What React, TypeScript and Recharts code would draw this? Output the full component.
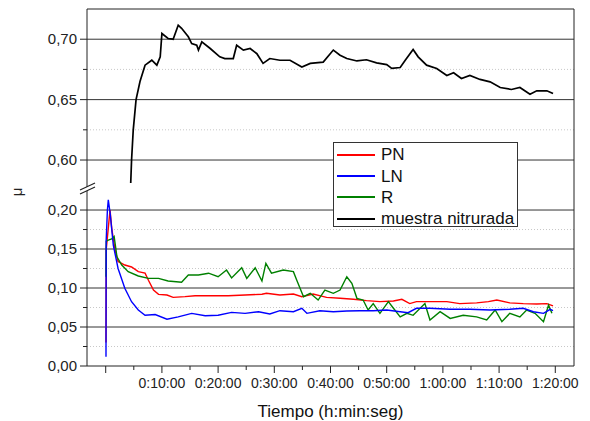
import { LineChart, Line, XAxis, YAxis, ReferenceLine } from 'recharts'

// tiempo en minutos, coeficiente de fricción μ
const pnTime = [0.05, 0.1, 0.5, 0.77, 1.07, 1.65, 2.2, 3.4, 4.6, 5.8, 7.0, 7.6, 8.5, 9.4, 10.9, 12.0, 14.1, 15.9, 18.9, 21.8, 24.8, 27.8, 28.6, 31.0, 33.4, 34.9, 36.9, 39.3, 41.7, 44.1, 46.4, 48.8, 51.2, 52.7, 54.1, 55.3, 57.7, 60.7, 63.0, 66.0, 68.1, 69.6, 71.9, 74.3, 76.7, 78.5, 79.6]
const pnValue = [0.03, 0.15, 0.18, 0.2, 0.1765, 0.149, 0.134, 0.1295, 0.127, 0.121, 0.119, 0.11, 0.0974, 0.0919, 0.091, 0.088, 0.0889, 0.09, 0.09, 0.09, 0.091, 0.092, 0.0932, 0.091, 0.0923, 0.0889, 0.0923, 0.088, 0.0868, 0.0855, 0.0838, 0.0825, 0.0833, 0.0855, 0.08, 0.0825, 0.0825, 0.0825, 0.08, 0.081, 0.0825, 0.0846, 0.081, 0.08, 0.0795, 0.08, 0.077]

const lnTime = [0.05, 0.08, 0.3, 0.46, 0.8, 1.35, 2.2, 3.4, 4.6, 5.8, 7.0, 8.8, 10.9, 12.9, 15.3, 17.7, 20.0, 22.4, 24.8, 27.2, 29.2, 31.0, 33.4, 34.9, 35.8, 38.1, 40.5, 42.9, 45.2, 47.6, 50.0, 52.4, 53.8, 55.3, 57.7, 61.3, 64.8, 68.4, 71.9, 74.3, 76.1, 77.9, 79.1, 79.6]
const lnValue = [0.012, 0.16, 0.2, 0.213, 0.195, 0.155, 0.125, 0.0996, 0.0824, 0.0718, 0.065, 0.066, 0.06, 0.063, 0.0675, 0.0645, 0.065, 0.0688, 0.0675, 0.0696, 0.0667, 0.0709, 0.0696, 0.074, 0.0675, 0.0709, 0.0696, 0.0705, 0.0709, 0.0709, 0.0718, 0.0696, 0.0684, 0.074, 0.074, 0.0727, 0.0727, 0.0718, 0.0727, 0.074, 0.0696, 0.0675, 0.0727, 0.071]

const rTime = [0.05, 0.1, 0.46, 1.07, 1.5, 2.0, 2.85, 4.0, 5.8, 7.6, 9.4, 11.1, 13.5, 14.7, 16.5, 18.3, 20.0, 21.5, 22.4, 24.2, 25.1, 26.6, 27.8, 28.5, 29.5, 31.6, 33.4, 34.0, 35.2, 36.4, 37.8, 39.0, 40.5, 41.7, 42.9, 43.8, 44.7, 45.8, 46.7, 47.6, 48.8, 50.3, 51.2, 52.4, 53.6, 54.7, 56.8, 57.7, 59.5, 61.3, 63.6, 66.0, 67.8, 69.3, 70.5, 71.9, 73.7, 74.9, 76.4, 77.9, 78.8, 79.4]
const rValue = [0.1145, 0.16, 0.1615, 0.163, 0.166, 0.14, 0.1295, 0.121, 0.1154, 0.1124, 0.1124, 0.109, 0.1073, 0.1167, 0.1167, 0.119, 0.1145, 0.123, 0.113, 0.126, 0.1124, 0.126, 0.109, 0.1316, 0.119, 0.123, 0.121, 0.11, 0.0889, 0.0932, 0.0846, 0.0974, 0.0932, 0.0974, 0.1145, 0.106, 0.0868, 0.0846, 0.0718, 0.08, 0.0675, 0.0825, 0.074, 0.063, 0.0675, 0.065, 0.08, 0.059, 0.0696, 0.061, 0.065, 0.063, 0.059, 0.0718, 0.0568, 0.0675, 0.063, 0.0718, 0.0675, 0.0568, 0.078, 0.0675]

const mnTime = [4.45, 4.6, 4.9, 5.4, 6.1, 7.0, 8.2, 9.1, 9.7, 10.0, 11.1, 12.0, 12.9, 13.5, 14.7, 15.3, 16.2, 16.5, 17.1, 18.6, 20.3, 21.2, 22.7, 23.3, 24.5, 25.7, 26.9, 28.0, 29.2, 31.0, 32.8, 34.9, 36.4, 38.7, 40.5, 41.7, 42.9, 44.7, 46.4, 48.2, 50.0, 50.9, 52.4, 53.3, 54.7, 55.6, 57.1, 58.9, 60.7, 61.9, 63.3, 64.8, 66.6, 68.4, 70.2, 72.2, 73.7, 75.5, 76.7, 78.5, 79.6]
const mnValue = [0.581, 0.6, 0.625, 0.65, 0.665, 0.6785, 0.6826, 0.6785, 0.6854, 0.7047, 0.7006, 0.7, 0.7116, 0.709, 0.702, 0.6964, 0.695, 0.691, 0.6978, 0.6923, 0.6854, 0.684, 0.684, 0.695, 0.691, 0.6923, 0.688, 0.68, 0.684, 0.6826, 0.6826, 0.677, 0.68, 0.681, 0.691, 0.6868, 0.684, 0.682, 0.683, 0.6804, 0.679, 0.6758, 0.6766, 0.6826, 0.6915, 0.6854, 0.6785, 0.6758, 0.67, 0.6722, 0.6675, 0.67, 0.6667, 0.6647, 0.66, 0.6584, 0.66, 0.6545, 0.6573, 0.6573, 0.655]

const xMajor = [0, 10, 20, 30, 40, 50, 60, 70, 80]
const xMinor = [5, 15, 25, 35, 45, 55, 65, 75]
const lowMajor = [0, 0.05, 0.1, 0.15, 0.2]
const lowMinor = [0.025, 0.075, 0.125, 0.175]
const upMajor = [0.6, 0.65, 0.7]
const upMinor = [0.625, 0.675]

const legendItems = [
  { name: 'PN', color: '#ff0000' },
  { name: 'LN', color: '#0000ff' },
  { name: 'R', color: '#008000' },
  { name: 'muestra nitrurada', color: '#000000' },
]

const xDomain = [-3.33, 83.33]
const lowDomain = [0, 0.2308]
const upDomain = [0.5785, 0.725]

const toPoints = (t: number[], v: number[]) => t.map((x, i) => ({ t: x, v: v[i] }))
const pnData = toPoints(pnTime, pnValue)
const lnData = toPoints(lnTime, lnValue)
const rData = toPoints(rTime, rValue)
const mnData = toPoints(mnTime, mnValue)

const FONT = '"Liberation Sans", Arial, sans-serif'
const TICK_SIZE = 7
const TICK_MARGIN = 3

const fmtTime = (m: number) => {
  const h = Math.floor(m / 60)
  const mm = m % 60
  return `${h}:${String(mm).padStart(2, '0')}:00`
}

function YTick(props: any) {
  const { x, y, payload, majors } = props
  const axisX = x + TICK_SIZE + TICK_MARGIN
  const isMajor = majors.some((m: number) => Math.abs(m - payload.value) < 1e-6)
  return (
    <g>
      <line x1={axisX - (isMajor ? 7 : 4)} x2={axisX} y1={y} y2={y} stroke="#222" strokeWidth={1} />
      {isMajor && (
        <text x={x} y={y} dy="0.35em" textAnchor="end" fontSize={15} fontFamily={FONT} fill="#222">
          {payload.value.toFixed(2).replace('.', ',')}
        </text>
      )}
    </g>
  )
}

function XTick(props: any) {
  const { x, y, payload } = props
  const axisY = y - TICK_SIZE - TICK_MARGIN
  const isMajor = xMajor.includes(payload.value)
  return (
    <g>
      <line x1={x} x2={x} y1={axisY} y2={axisY + (isMajor ? 7 : 4)} stroke="#222" strokeWidth={1} />
      {isMajor && payload.value > 0 && (
        <text x={x} y={y} dy={12} textAnchor="middle" fontSize={14} fontFamily={FONT} fill="#222">
          {fmtTime(payload.value)}
        </text>
      )}
    </g>
  )
}

export default function App() {
  return (
    <div style={{ position: 'absolute', left: 0, top: 0, width: 590, height: 421, background: '#fff', fontFamily: FONT }}>
      <div style={{ position: 'absolute', left: 0, top: 0 }}>
        <LineChart width={590} height={186} margin={{ top: 9, right: 16, bottom: 0, left: 35 }}>
          <XAxis dataKey="t" type="number" domain={xDomain} allowDataOverflow hide />
          <YAxis
            type="number"
            domain={upDomain}
            allowDataOverflow
            width={52}
            ticks={[...upMajor, ...upMinor]}
            interval={0}
            tick={<YTick majors={upMajor} />}
            tickLine={false}
            tickSize={TICK_SIZE}
            tickMargin={TICK_MARGIN}
            axisLine={{ stroke: '#222' }}
          />
          {upMinor.map((v) => (
            <ReferenceLine key={v} y={v} stroke="#c8c8c8" strokeDasharray="1 2" />
          ))}
          {upMajor.map((v) => (
            <ReferenceLine key={v} y={v} stroke="#333" />
          ))}
          <ReferenceLine y={upDomain[1]} stroke="#222" />
          <ReferenceLine x={xDomain[1]} stroke="#222" />
          <Line data={mnData} dataKey="v" type="linear" stroke="#000" strokeWidth={1.7} dot={false} isAnimationActive={false} />
        </LineChart>
      </div>
      <div style={{ position: 'absolute', left: 0, top: 0 }}>
        <LineChart width={590} height={421} margin={{ top: 186, right: 16, bottom: 0, left: 35 }}>
          <XAxis
            dataKey="t"
            type="number"
            domain={xDomain}
            allowDataOverflow
            ticks={[...xMajor, ...xMinor]}
            interval={0}
            tick={<XTick />}
            tickLine={false}
            tickSize={TICK_SIZE}
            tickMargin={TICK_MARGIN}
            height={55}
            axisLine={{ stroke: '#222' }}
            label={{ value: 'Tiempo (h:min:seg)', position: 'insideBottom', offset: 4, fontSize: 17, fill: '#111', fontFamily: FONT }}
          />
          <YAxis
            type="number"
            domain={lowDomain}
            allowDataOverflow
            width={52}
            ticks={[...lowMajor, ...lowMinor]}
            interval={0}
            tick={<YTick majors={lowMajor} />}
            tickLine={false}
            tickSize={TICK_SIZE}
            tickMargin={TICK_MARGIN}
            axisLine={{ stroke: '#222' }}
          />
          {lowMinor.map((v) => (
            <ReferenceLine key={v} y={v} stroke="#c8c8c8" strokeDasharray="1 2" />
          ))}
          {lowMajor.filter((v) => v > 0).map((v) => (
            <ReferenceLine key={v} y={v} stroke="#333" />
          ))}
          <ReferenceLine x={xDomain[1]} stroke="#222" />
          <Line data={pnData} dataKey="v" type="linear" stroke="#ff0000" strokeWidth={1.4} dot={false} isAnimationActive={false} />
          <Line data={rData} dataKey="v" type="linear" stroke="#008000" strokeWidth={1.4} dot={false} isAnimationActive={false} />
          <Line data={lnData} dataKey="v" type="linear" stroke="#0000ff" strokeWidth={1.4} dot={false} isAnimationActive={false} />
        </LineChart>
      </div>
      <svg width={590} height={421} style={{ position: 'absolute', left: 0, top: 0, pointerEvents: 'none' }}>
        <polygon points="80,190 95,183 95,187 80,194" fill="#fff" />
        <line x1={80} y1={190} x2={95} y2={183} stroke="#222" strokeWidth={1.2} />
        <line x1={80} y1={194} x2={95} y2={187} stroke="#222" strokeWidth={1.2} />
        <text x={17} y={192} transform="rotate(-90 17 192)" textAnchor="middle" dy="0.35em" fontSize={15} fontFamily={FONT} fill="#222">
          μ
        </text>
      </svg>
      <div
        style={{
          position: 'absolute',
          left: 333,
          top: 142,
          width: 185,
          height: 85,
          boxSizing: 'border-box',
          border: '1px solid #333',
          background: '#fff',
          paddingTop: 1,
        }}
      >
        {legendItems.map((it) => (
          <div key={it.name} style={{ display: 'flex', alignItems: 'center', height: 21.4 }}>
            <div style={{ width: 38, height: 0, borderTop: `2px solid ${it.color}`, marginLeft: 3, marginRight: 6 }} />
            <span style={{ fontSize: 17, color: '#111', whiteSpace: 'nowrap', lineHeight: '21px' }}>{it.name}</span>
          </div>
        ))}
      </div>
    </div>
  )
}
